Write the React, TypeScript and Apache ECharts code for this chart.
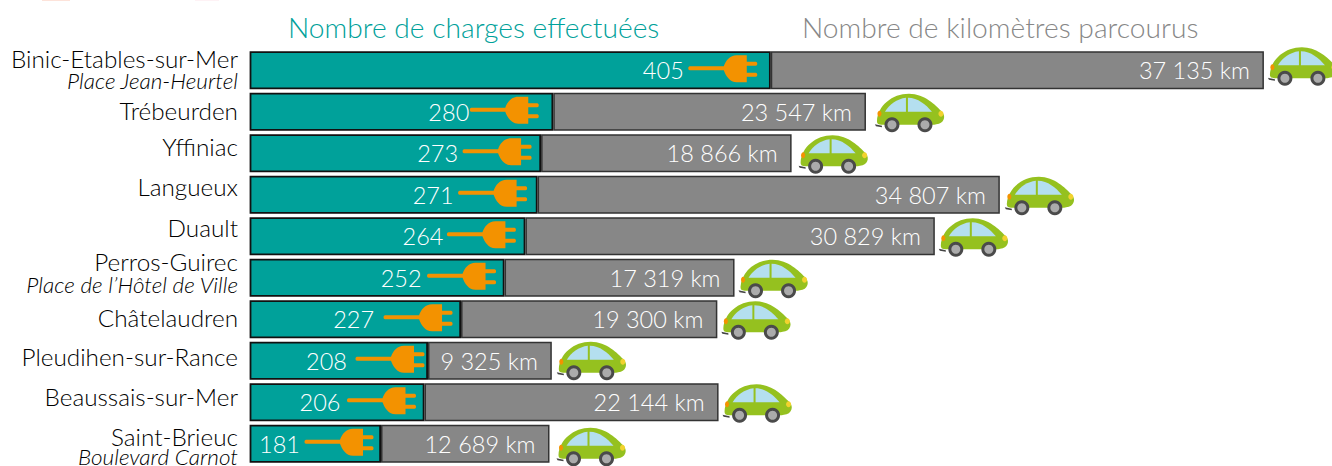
import React, { useEffect, useRef } from "react";
import * as echarts from "echarts";

const categories = ["Binic-Etables-sur-Mer","Trébeurden","Yffiniac","Langueux","Duault","Perros-Guirec","Châtelaudren","Pleudihen-sur-Rance","Beaussais-sur-Mer","Saint-Brieuc"];
const subtitles = ["Place Jean-Heurtel","","","","","Place de l’Hôtel de Ville","","","","Boulevard Carnot"];
const charges = [405,280,273,271,264,252,227,208,206,181];
const kilometres = [37135,23547,18866,34807,30829,17319,19300,9325,22144,12689];
const seriesNames = ["Nombre de charges effectuées","Nombre de kilomètres parcourus"];

// The source draws the kilometres on their own scale, stacked after the charges.
const CHARGE_AXIS_MIN = 106;
const PX_PER_CHARGE = 1.74;
const PX_PER_KM = 0.01328;
const KM_TO_CHARGE = PX_PER_KM / PX_PER_CHARGE;

// Layout tweaks per row (px), not data.
const labelUp = [0, 2, 14, 16, 17, 0, 3, 8, 12, 0];
const nameLine = [20, 24, 24, 24, 24, 14, 24, 24, 24, 26];
const subLine = [24, 0, 0, 0, 0, 32, 0, 0, 0, 14];
const plugInset = [13, 14, 9, 10, 9, 8, 8, 3, 8, 7];
const valueInset = [87, 84, 83, 84, 82, 83, 87, 81, 84, 81];
const carGap = [4, 9, 7, 5, 4, 4, 4, 5, 4, 7];
const carLift = [4, -1, -1, -1, -1, -1, -1, 0, -1, -3];

const fmtKm = (v: number) => String(v).replace(/\B(?=(\d{3})+$)/g, " ") + " km";
const FONT = "Lato";
const ORANGE = "#f39200";

const plugPath = "M-68,-4 L-34,-4 C-32,-9.5 -28,-15 -21,-15 L-11,-15 L-11,-8.5 L-2,-8.5 C0,-8.5 0,-4.5 -2,-4.5 L-11,-4.5 L-11,2.5 L-2,2.5 C0,2.5 0,6.5 -2,6.5 L-11,6.5 L-11,12 L-21,12 C-28,12 -32,5.5 -34,0 L-68,0 C-70,0 -70,-4 -68,-4 Z";
const carBody = "M2,27 C3,12 17,0 34,0 C50,0 61,12 66,17 C71,21 70,28 64,30 C60,31 58,31 56,31 L8,31 C3,31 2,30 2,27 Z";
const carWinA = "M10,18 C14,11 22,5 31,4 L31,18 Z";
const carWinB = "M33,4 C43,4 51,11 57,18 L33,18 Z";

function renderDecor(params: any, api: any) {
  const i = api.value(1);
  const c = api.coord([api.value(0), i]);
  const end = api.coord([api.value(0) + api.value(2), i]);
  const style = (fill: string) => ({ fill, stroke: "none" });
  return {
    type: "group",
    children: [
      {
        type: "group", x: c[0] - plugInset[i], y: c[1],
        children: [{ type: "path", shape: { pathData: plugPath }, style: style(ORANGE) }],
      },
      {
        type: "group", x: end[0] + carGap[i], y: end[1] - 19 - carLift[i],
        children: [
          { type: "path", shape: { pathData: "M0,30.5 L7,32 L7,33.5 L1,32.5 Z" }, style: style("#444") },
          { type: "path", shape: { pathData: carBody }, style: style("#95c11f") },
          { type: "path", shape: { pathData: carWinA }, style: style("#b4dfef") },
          { type: "path", shape: { pathData: carWinB }, style: style("#b4dfef") },
          { type: "ellipse", shape: { cx: 4.5, cy: 20, rx: 2, ry: 3 }, style: style(ORANGE) },
          { type: "ellipse", shape: { cx: 66, cy: 20, rx: 2.5, ry: 3 }, style: style("#f2d22e") },
          { type: "circle", shape: { cx: 17, cy: 31, r: 7.5 }, style: style("#4a4a4a") },
          { type: "circle", shape: { cx: 17, cy: 31, r: 4.5 }, style: style("#ababab") },
          { type: "circle", shape: { cx: 50, cy: 31, r: 7.5 }, style: style("#4a4a4a") },
          { type: "circle", shape: { cx: 50, cy: 31, r: 4.5 }, style: style("#ababab") },
        ],
      },
    ],
  };
}

export default function App() {
  const ref = useRef<HTMLDivElement>(null);
  useEffect(() => {
    const chart = echarts.init(ref.current!, null, { renderer: "svg" });
    const rich: any = {};
    categories.forEach((_, i) => {
      rich["n" + i] = { fontFamily: FONT, fontWeight: 300, fontSize: 24.3, color: "#000", align: "right", lineHeight: nameLine[i], padding: [0, 0, labelUp[i], 0] };
      rich["s" + i] = { fontFamily: FONT, fontWeight: 300, fontSize: 22.5, fontStyle: "italic", color: "#000", align: "right", lineHeight: subLine[i] };
    });
    const titleStyle = { fontFamily: FONT, fontWeight: 300, fontSize: 28.2 };
    chart.setOption({
      animation: false,
      backgroundColor: "#fff",
      grid: { left: 250.5, right: 0, top: 49.5, bottom: 1.5, containLabel: false, outerBoundsMode: "none" },
      xAxis: { type: "value", min: CHARGE_AXIS_MIN, max: CHARGE_AXIS_MIN + 1081.5 / PX_PER_CHARGE, show: false },
      yAxis: {
        type: "category", inverse: true, data: categories,
        axisLine: { show: false }, axisTick: { show: false },
        axisLabel: {
          margin: 12.5, interval: 0, rich,
          formatter: (v: string) => {
            const i = categories.indexOf(v);
            return `{n${i}|${v}}` + (subtitles[i] ? `\n{s${i}|${subtitles[i]}}` : "");
          },
        },
      },
      graphic: [
        { type: "text", x: 288, y: 13, style: { text: seriesNames[0], ...titleStyle, fill: "#00a19a" } },
        { type: "text", x: 802, y: 13, style: { text: seriesNames[1], ...titleStyle, fill: "#878787" } },
        { type: "rect", shape: { x: 42, y: 0, width: 28, height: 1 }, style: { fill: "#fde3da" } },
        { type: "rect", shape: { x: 195, y: 0, width: 24, height: 1 }, style: { fill: "#fef2f5" } },
      ],
      series: [
        {
          type: "bar", name: seriesNames[0], stack: "t", barWidth: 38, z: 3,
          itemStyle: { color: "#00a19a", borderColor: "#111", borderWidth: 1.8 },
          data: charges.map((v, i) => ({
            value: v,
            label: { show: true, position: "insideRight", distance: valueInset[i], color: "#fff", fontFamily: FONT, fontWeight: 300, fontSize: 23.5, formatter: String(v) },
          })),
        },
        {
          type: "bar", name: seriesNames[1], stack: "t", barWidth: 38, z: 2,
          itemStyle: { color: "#878787", borderColor: "#333", borderWidth: 1.5 },
          data: kilometres.map((k) => ({
            value: k * KM_TO_CHARGE,
            label: { show: true, position: "insideRight", distance: 14, color: "#fff", fontFamily: FONT, fontWeight: 300, fontSize: 23.5, formatter: fmtKm(k) },
          })),
        },
        {
          type: "custom", renderItem: renderDecor, clip: false, z: 5, silent: true,
          encode: { x: 0, y: 1 },
          data: charges.map((v, i) => [v, i, kilometres[i] * KM_TO_CHARGE]),
        },
      ],
    });
    return () => chart.dispose();
  }, []);
  return <div ref={ref} style={{ position: "fixed", left: 0, top: 0, width: 1332, height: 466 }} />;
}
